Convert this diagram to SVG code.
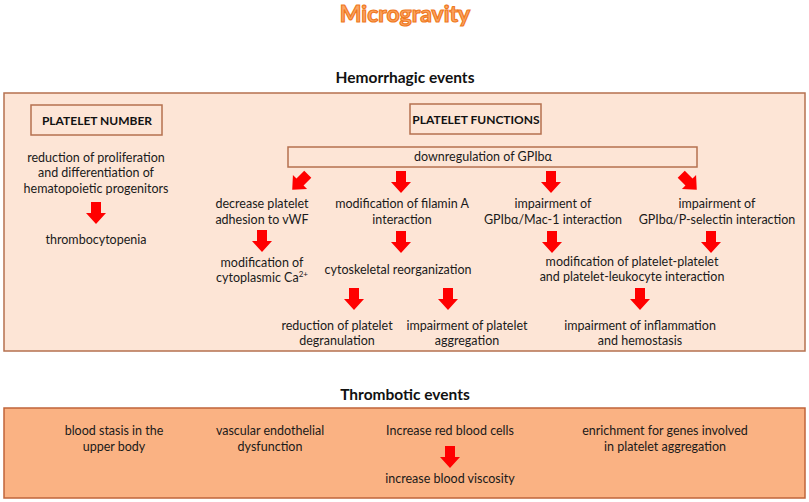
<svg xmlns="http://www.w3.org/2000/svg" xmlns:xlink="http://www.w3.org/1999/xlink" width="809" height="502" viewBox="0 0 809 502">
<style>
.t{font-family:Lato,"Open Sans","DejaVu Sans",sans-serif;font-size:12.5px;fill:#1a1a1a;text-anchor:middle}
.b{font-family:Lato,"Open Sans","DejaVu Sans",sans-serif;font-weight:bold;fill:#111;text-anchor:middle}
.hd{font-size:15.5px}
.lb{font-size:12px}
.box{fill:none;stroke:#b5704f;stroke-width:1.5}
.arr{fill:#ff0000}
</style>
<defs>
<path id="ar" class="arr" d="M-5,-11 H5 V0 H10 L0,11 L-10,0 H-5 Z"/>
</defs>
<rect width="809" height="502" fill="#ffffff"/>
<text x="405" y="22" font-family="Lato,'Open Sans',sans-serif" font-weight="bold" font-size="23" text-anchor="middle" fill="#fba667" stroke="#f07a1e" stroke-width="1.2">Microgravity</text>

<g id="hemorrhagic">
<text class="b hd" x="405" y="83">Hemorrhagic events</text>
<rect x="4" y="93" width="801" height="258" fill="#fde5d6" stroke="#b5704f" stroke-width="1.5"/>
</g>
<g id="platelet-number">
<rect class="box" x="31" y="105" width="131" height="30"/>
<text class="b lb" x="97" y="125">PLATELET NUMBER</text>
</g>
<g id="platelet-functions">
<rect class="box" x="410" y="104" width="131" height="30"/>
<text class="b lb" x="476" y="124">PLATELET FUNCTIONS</text>
</g>
<g id="downregulation">
<rect class="box" x="288" y="147" width="409" height="20"/>
<text class="t" x="483" y="161">downregulation of GPIbα</text>
</g>
<g id="proliferation">
<text class="t" x="96" y="162">reduction of proliferation</text>
<text class="t" x="96" y="177">and differentiation of</text>
<text class="t" x="96" y="193">hematopoietic progenitors</text>
</g>
<g id="thrombocytopenia"><text class="t" x="96" y="244">thrombocytopenia</text></g>
<g id="adhesion">
<text class="t" x="262" y="208">decrease platelet</text>
<text class="t" x="262" y="224">adhesion to vWF</text>
</g>
<g id="filamin">
<text class="t" x="402" y="208">modification of filamin A</text>
<text class="t" x="402" y="224">interaction</text>
</g>
<g id="mac1">
<text class="t" x="553" y="208">impairment of</text>
<text class="t" x="553" y="224">GPIbα/Mac-1 interaction</text>
</g>
<g id="pselectin">
<text class="t" x="717" y="208">impairment of</text>
<text class="t" x="717" y="224">GPIbα/P-selectin interaction</text>
</g>
<g id="calcium">
<text class="t" x="262" y="267">modification of</text>
<text class="t" x="262" y="282">cytoplasmic Ca<tspan font-size="8" dy="-5">2+</tspan></text>
</g>
<g id="cytoskeletal"><text class="t" x="398" y="274">cytoskeletal reorganization</text></g>
<g id="interaction">
<text class="t" x="632" y="266">modification of platelet-platelet</text>
<text class="t" x="632" y="281">and platelet-leukocyte interaction</text>
</g>
<g id="degranulation">
<text class="t" x="337" y="330">reduction of platelet</text>
<text class="t" x="337" y="345">degranulation</text>
</g>
<g id="aggregation">
<text class="t" x="467" y="330">impairment of platelet</text>
<text class="t" x="467" y="345">aggregation</text>
</g>
<g id="inflammation">
<text class="t" x="640" y="330">impairment of inflammation</text>
<text class="t" x="640" y="345">and hemostasis</text>
</g>

<g id="thrombotic">
<text class="b hd" x="405" y="400">Thrombotic events</text>
<rect x="4" y="408" width="801" height="90" fill="#fab283" stroke="#c0643a" stroke-width="1.5"/>
</g>
<g id="stasis">
<text class="t" x="114" y="435">blood stasis in the</text>
<text class="t" x="114" y="451">upper body</text>
</g>
<g id="endothelial">
<text class="t" x="270" y="435">vascular endothelial</text>
<text class="t" x="270" y="451">dysfunction</text>
</g>
<g id="redcells"><text class="t" x="450" y="435">Increase red blood cells</text></g>
<g id="genes">
<text class="t" x="665" y="435">enrichment for genes involved</text>
<text class="t" x="665" y="451">in platelet aggregation</text>
</g>
<g id="viscosity"><text class="t" x="450" y="483">increase blood viscosity</text></g>

<g id="connectors">
<use xlink:href="#ar" transform="translate(96,213)"/>
<use xlink:href="#ar" transform="translate(300,182) rotate(45)"/>
<use xlink:href="#ar" transform="translate(401,182)"/>
<use xlink:href="#ar" transform="translate(551,182)"/>
<use xlink:href="#ar" transform="translate(689,182) rotate(-45)"/>
<use xlink:href="#ar" transform="translate(262,241)"/>
<use xlink:href="#ar" transform="translate(401,242)"/>
<use xlink:href="#ar" transform="translate(552,242)"/>
<use xlink:href="#ar" transform="translate(711,242)"/>
<use xlink:href="#ar" transform="translate(354,299)"/>
<use xlink:href="#ar" transform="translate(448,299)"/>
<use xlink:href="#ar" transform="translate(640,299)"/>
<use xlink:href="#ar" transform="translate(450,457)"/>
</g>
</svg>
